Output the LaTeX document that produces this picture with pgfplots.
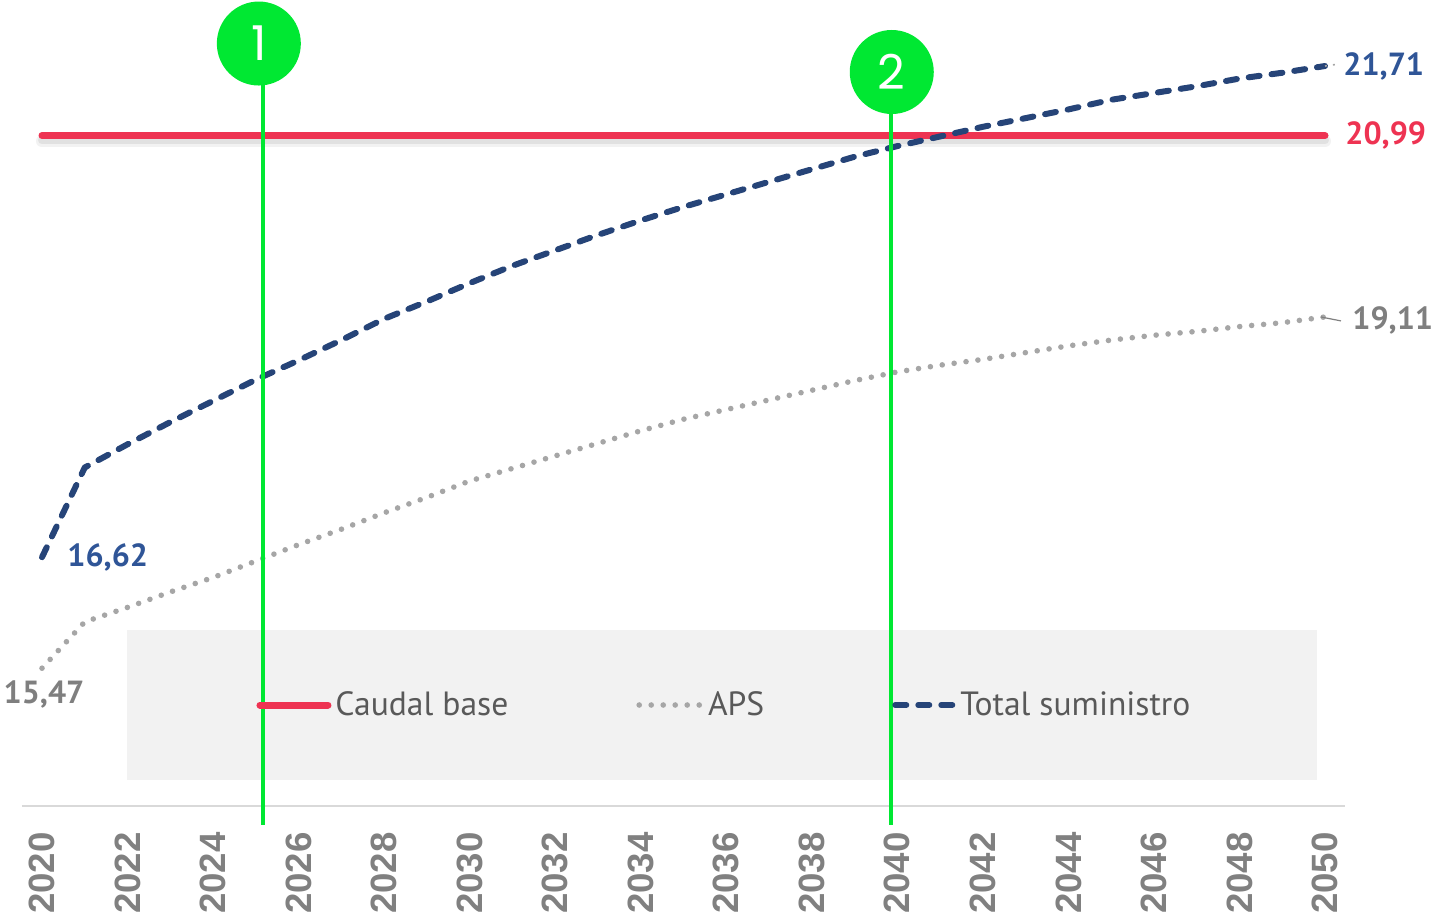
\documentclass[border=0pt]{standalone}
\usepackage{pgfplots}
\pgfplotsset{compat=1.18}
\usepackage{fontspec}
\setmainfont{PT Sans}
\newfontfamily\tickfont{Liberation Sans}
\newfontfamily\circfont{Poppins}
\definecolor{cbred}{RGB}{238,51,82}
\definecolor{navy}{RGB}{38,68,120}
\definecolor{apsgray}{RGB}{166,166,166}
\definecolor{lblblue}{RGB}{47,85,151}
\definecolor{lblgray}{RGB}{127,127,127}
\definecolor{tickgray}{RGB}{128,128,128}
\definecolor{legtext}{RGB}{89,89,89}
\definecolor{legbox}{RGB}{242,242,242}
\definecolor{axisgray}{RGB}{217,217,217}
\definecolor{cgreen}{RGB}{0,232,50}
\pgfplotsset{legline/.style={legend image code/.code={\draw[##1] (0pt,0pt) -- (#1,0pt);}}}
\begin{document}
\begin{tikzpicture}
\begin{axis}[
  at={(0,0)}, anchor=south west,
  scale only axis, width=661.5pt, height=403pt,
  xmin=2019.532, xmax=2050.468, ymin=14.042, ymax=22.394,
  clip=false,
  axis line style={draw=none},
  ytick=\empty,
  xtick={2020,2022,...,2050},
  xticklabels={2020,2022,2024,2026,2028,2030,2032,2034,2036,2038,2040,2042,2044,2046,2048,2050},
  major tick length=0pt,
  xticklabel style={yshift=-13pt, rotate=90, anchor=east, inner sep=0pt,
    font=\tickfont\bfseries\fontsize{18.3}{20}\selectfont, text=tickgray},
  legend style={at={(0.5317,0.1253)}, anchor=center, draw=none, fill=none,
    font=\fontsize{16.8}{19}\selectfont, text=legtext,
    /tikz/every even column/.append style={column sep=62pt}},
  legend columns=3,
  legend cell align=left,
]
\fill[legbox] (rel axis cs:0.0794,0.0323) rectangle (rel axis cs:0.9788,0.2184);
\draw[axisgray, line width=1pt] (rel axis cs:0,0) -- (rel axis cs:1,0);

% soft shadow of base line
\addplot[forget plot, black, opacity=0.05, line width=6pt, line cap=round, yshift=-3pt]
  coordinates {(2020,20.99) (2050,20.99)};
\addplot[forget plot, black, opacity=0.07, line width=4pt, line cap=round, yshift=-2.5pt]
  coordinates {(2020,20.99) (2050,20.99)};

\addplot[cbred, line width=3.5pt, line cap=round, legline=34pt]
  coordinates {(2020,20.99) (2050,20.99)};

\addplot[apsgray, line width=2.8pt, line cap=round, dash pattern=on 0pt off 6pt, legline=31pt]
  coordinates {
  (2020,15.47) (2021,15.95) (2022,16.10) (2023,16.26) (2024,16.41) (2025,16.58)
  (2026,16.75) (2027,16.91) (2028,17.08) (2029,17.24) (2030,17.41)
  (2031,17.54) (2032,17.67) (2033,17.80) (2034,17.93) (2035,18.05)
  (2036,18.15) (2037,18.25) (2038,18.35) (2039,18.45) (2040,18.54)
  (2041,18.61) (2042,18.67) (2043,18.74) (2044,18.81) (2045,18.87)
  (2046,18.92) (2047,18.96) (2048,19.01) (2049,19.05) (2050,19.11)};

\addplot[navy, line width=3pt, line cap=round, line join=round, dash pattern=on 5.5pt off 6pt, legline=29pt]
  coordinates {
  (2020,16.62) (2021,17.55) (2022,17.79) (2023,18.02) (2024,18.24) (2025,18.46)
  (2026,18.66) (2027,18.87) (2028,19.09) (2029,19.27) (2030,19.46)
  (2031,19.64) (2032,19.80) (2033,19.96) (2034,20.11) (2035,20.25)
  (2036,20.38) (2037,20.51) (2038,20.64) (2039,20.77) (2040,20.88)
  (2041,20.98) (2042,21.08) (2043,21.17) (2044,21.26) (2045,21.36)
  (2046,21.43) (2047,21.50) (2048,21.58) (2049,21.64) (2050,21.71)};

\legend{Caudal base, APS, Total suministro}

% data labels
\node[anchor=west, xshift=9pt, inner sep=0pt, text=lblblue, font=\bfseries\fontsize{16}{18}\selectfont] at (axis cs:2050,21.71) {21,71};
\draw[apsgray, line width=0.8pt, dash pattern=on 1pt off 3pt] (axis cs:2050,21.71) -- ([xshift=7pt,yshift=1pt]axis cs:2050,21.71);
\node[anchor=west, xshift=10pt, inner sep=0pt, text=cbred, font=\bfseries\fontsize{16}{18}\selectfont] at (axis cs:2050,20.99) {20,99};
\node[anchor=west, xshift=13.5pt, yshift=-2pt, inner sep=0pt, text=lblgray, font=\bfseries\fontsize{16}{18}\selectfont] at (axis cs:2050,19.11) {19,11};
\draw[lblgray, line width=0.6pt] (axis cs:2049.9,19.11) -- ([xshift=8pt,yshift=-2pt]axis cs:2050,19.11);
\node[anchor=west, xshift=12.5pt, inner sep=0pt, text=lblblue, font=\bfseries\fontsize{16}{18}\selectfont] at (axis cs:2020,16.62) {16,62};
\node[anchor=north, yshift=-6pt, xshift=1pt, inner sep=0pt, text=lblgray, font=\bfseries\fontsize{16}{18}\selectfont] at (axis cs:2020,15.47) {15,47};

% annotations
\draw[cgreen, line width=2.2pt] (axis cs:2025.17,21.9) -- (axis cs:2025.17,13.845);
\fill[cgreen] (axis cs:2025.07,21.943) circle[radius=21pt];
\node[text=white, font=\circfont\fontsize{24}{26}\selectfont] at (axis cs:2025.07,21.943) {1};
\draw[cgreen, line width=2.2pt] (axis cs:2039.85,21.6) -- (axis cs:2039.85,13.845);
\fill[cgreen] (axis cs:2039.87,21.648) circle[radius=21pt];
\node[text=white, font=\circfont\fontsize{24}{26}\selectfont] at (axis cs:2039.87,21.648) {2};
\end{axis}
\pgfresetboundingbox
\useasboundingbox (-11pt,-58pt) rectangle (706pt,403pt);
\end{tikzpicture}
\end{document}
